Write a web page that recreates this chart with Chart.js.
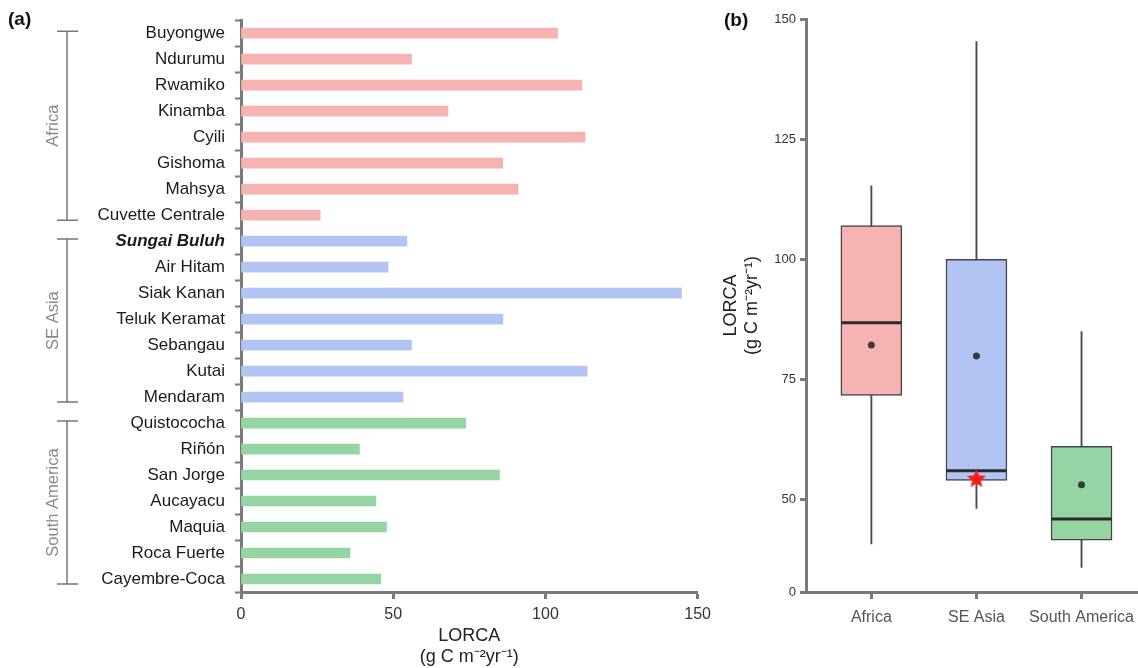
<!DOCTYPE html>
<html>
<head>
<meta charset="utf-8">
<script src="https://cdn.jsdelivr.net/npm/chart.js@4.4.0/dist/chart.umd.min.js"></script>
<style>
  body { margin: 0; background: #fff; }
  #wrap { position: relative; width: 1138px; height: 668px; overflow: hidden; }
  canvas { position: absolute; top: 0; }
  #barChart { left: 0; }
  #boxChart { left: 700px; }
</style>
</head>
<body>
<div id="wrap">
  <canvas id="barChart" width="717" height="668"></canvas>
  <canvas id="boxChart" width="443" height="668"></canvas>
</div>
<script>
// ---- data: panel (a) ----
const sites = ["Buyongwe", "Ndurumu", "Rwamiko", "Kinamba", "Cyili", "Gishoma", "Mahsya", "Cuvette Centrale",
  "Sungai Buluh", "Air Hitam", "Siak Kanan", "Teluk Keramat", "Sebangau", "Kutai", "Mendaram",
  "Quistococha", "Riñón", "San Jorge", "Aucayacu", "Maquia", "Roca Fuerte", "Cayembre-Coca"];
const lorca = [104, 56, 112, 68, 113, 86, 91, 26,
  54.5, 48.3, 144.7, 86, 56, 113.7, 53.2,
  73.8, 38.9, 84.9, 44.3, 47.8, 35.8, 45.9];
const siteRegion = [0, 0, 0, 0, 0, 0, 0, 0, 1, 1, 1, 1, 1, 1, 1, 2, 2, 2, 2, 2, 2, 2];
const highlightSite = "Sungai Buluh";
const xTicks = [0, 50, 100, 150];

// ---- data: panel (b) ----
const regions = ["Africa", "SE Asia", "South America"];
const regionPos = [1, 2, 3];
const boxMin = [40.8, 48.2, 35.9];
const boxQ1 = [71.7, 54.0, 41.6];
const boxMedian = [86.8, 56.0, 46.0];
const boxQ3 = [107.0, 100.0, 61.1];
const boxMax = [115.3, 145.3, 85.0];
const boxMean = [82.2, 79.9, 53.1];
const yTickValues = [30.8, 50, 75, 100, 125, 150];
const yTickLabels = ["0", "50", "75", "100", "125", "150"];

const regionColors = ["#F7B3B1", "#B2C4F4", "#95D4A3"];
const axisGray = "#7a7a7a";
const FONT = 'Arial, "Liberation Sans", sans-serif';

// Group brackets and panel letter for (a)
const groupBrackets = {
  id: "groupBrackets",
  afterDraw(chart) {
    const { ctx } = chart;
    const y = chart.scales.y;
    ctx.save();
    regions.forEach((name, r) => {
      const first = siteRegion.indexOf(r);
      const last = siteRegion.lastIndexOf(r);
      const top = y.getPixelForValue(first) - 2;
      const bot = y.getPixelForValue(last) + 5;
      ctx.strokeStyle = "#777";
      ctx.lineWidth = 1.5;
      ctx.beginPath();
      ctx.moveTo(67, top); ctx.lineTo(67, bot);
      ctx.moveTo(57, top); ctx.lineTo(78, top);
      ctx.moveTo(57, bot); ctx.lineTo(78, bot);
      ctx.stroke();
      ctx.save();
      ctx.translate(53, (top + bot) / 2);
      ctx.rotate(-Math.PI / 2);
      ctx.fillStyle = "#888";
      ctx.font = "16.5px " + FONT;
      ctx.textAlign = "center";
      ctx.textBaseline = "middle";
      ctx.fillText(name, 0, 0);
      ctx.restore();
    });
    ctx.fillStyle = "#111";
    ctx.font = "bold 19px " + FONT;
    ctx.textBaseline = "middle";
    ctx.fillText("(a)", 8, 20);
    ctx.restore();
  }
};

new Chart(document.getElementById("barChart"), {
  type: "bar",
  data: {
    labels: sites,
    datasets: [{
      data: lorca,
      backgroundColor: siteRegion.map(r => regionColors[r]),
      barThickness: 10,
      borderWidth: 0
    }]
  },
  options: {
    indexAxis: "y",
    responsive: false,
    animation: false,
    layout: { padding: { left: 0, top: 16, right: 0, bottom: 0 } },
    plugins: { legend: { display: false }, tooltip: { enabled: false } },
    scales: {
      x: {
        min: 0, max: 150,
        afterBuildTicks: s => { s.ticks = xTicks.map(v => ({ value: v })); },
        afterFit: s => { s.height = 76; },
        grid: { drawOnChartArea: false, drawTicks: true, tickLength: 7, tickColor: axisGray, tickWidth: 3 },
        border: { color: axisGray, width: 3 },
        ticks: { color: "#333", font: { family: FONT, size: 16 }, padding: 6, maxRotation: 0 },
        title: {
          display: true,
          text: ["LORCA", "(g C m⁻²yr⁻¹)"],
          color: "#222",
          font: { family: FONT, size: 18, lineHeight: 1.2 },
          padding: { top: 0, bottom: 0 }
        }
      },
      y: {
        afterFit: s => { s.width = 241; },
        grid: { offset: true, drawOnChartArea: false, drawTicks: true, tickLength: 6, tickColor: axisGray, tickWidth: 2 },
        border: { color: axisGray, width: 3 },
        ticks: {
          autoSkip: false,
          color: "#1a1a1a",
          padding: 10,
          font: ctx => {
            const hl = sites[ctx.index] === highlightSite;
            return { family: FONT, size: 17, weight: hl ? "bold" : "normal", style: hl ? "italic" : "normal" };
          }
        }
      }
    }
  },
  plugins: [groupBrackets]
});

// ---- panel (b) ----
function makeStar(size, color) {
  const c = document.createElement("canvas");
  c.width = c.height = size;
  const g = c.getContext("2d");
  const R = size / 2, r = R * 0.45;
  g.beginPath();
  for (let i = 0; i < 10; i++) {
    const a = -Math.PI / 2 + i * Math.PI / 5;
    const rad = i % 2 ? r : R;
    g.lineTo(R + rad * Math.cos(a), R + 1 + rad * Math.sin(a));
  }
  g.closePath();
  g.fillStyle = color;
  g.fill();
  return c;
}
const starImg = makeStar(20, "#ff1a1a");

const panelB = {
  id: "panelB",
  afterDraw(chart) {
    const { ctx } = chart;
    ctx.save();
    ctx.fillStyle = "#111";
    ctx.font = "bold 19px " + FONT;
    ctx.textBaseline = "middle";
    ctx.fillText("(b)", 24, 21);
    ctx.restore();
  }
};

new Chart(document.getElementById("boxChart"), {
  type: "bar",
  data: {
    datasets: [
      {
        type: "scatter",
        data: [{ x: 2, y: lorca[sites.indexOf(highlightSite)] }],
        pointStyle: starImg,
        order: 0
      },
      {
        type: "scatter",
        data: regionPos.map((x, i) => ({ x, y: boxMean[i] })),
        pointRadius: 3.5,
        pointBackgroundColor: "#3a3a3a",
        pointBorderWidth: 0,
        order: 1
      },
      {
        type: "scatter",
        data: regionPos.map((x, i) => ({ x, y: boxMedian[i] })),
        pointStyle: "line",
        pointRadius: 30,
        pointBorderWidth: 3,
        pointBorderColor: "#2b2b2b",
        order: 2
      },
      {
        data: regionPos.map((x, i) => ({ x, y: [boxQ1[i], boxQ3[i]] })),
        backgroundColor: regionColors,
        borderColor: "#444",
        borderWidth: 1.5,
        borderSkipped: false,
        barThickness: 61,
        grouped: false,
        order: 3
      },
      {
        data: regionPos.map((x, i) => ({ x, y: [boxQ3[i], boxMax[i]] })),
        backgroundColor: "#4a4a4a",
        barThickness: 1.2,
        grouped: false,
        order: 4
      },
      {
        data: regionPos.map((x, i) => ({ x, y: [boxMin[i], boxQ1[i]] })),
        backgroundColor: "#4a4a4a",
        barThickness: 1.2,
        grouped: false,
        order: 4
      }
    ]
  },
  options: {
    responsive: false,
    animation: false,
    layout: { autoPadding: false, padding: { left: 0, top: 19, right: 0, bottom: 0 } },
    plugins: { legend: { display: false }, tooltip: { enabled: false } },
    scales: {
      x: {
        type: "linear",
        offset: false,
        min: 0.378, max: 3.555,
        afterBuildTicks: s => { s.ticks = regionPos.map(v => ({ value: v })); },
        afterFit: s => { s.height = 76; },
        grid: { offset: false, drawOnChartArea: false, drawTicks: true, tickLength: 7, tickColor: axisGray, tickWidth: 3 },
        border: { color: axisGray, width: 3 },
        ticks: {
          autoSkip: false,
          color: "#555",
          font: { family: FONT, size: 16 },
          padding: 9,
          maxRotation: 0,
          callback: v => regions[regionPos.indexOf(v)]
        }
      },
      y: {
        type: "linear",
        min: yTickValues[0], max: 150,
        afterBuildTicks: s => { s.ticks = yTickValues.map(v => ({ value: v })); },
        afterFit: s => { s.width = 106; },
        grid: { drawOnChartArea: false, drawTicks: true, tickLength: 6, tickColor: axisGray, tickWidth: 3 },
        border: { color: axisGray, width: 3 },
        ticks: {
          color: "#333",
          font: { family: FONT, size: 13 },
          padding: 4,
          callback: v => yTickLabels[yTickValues.indexOf(v)]
        },
        title: {
          display: true,
          text: ["LORCA", "(g C m⁻²yr⁻¹)"],
          color: "#222",
          font: { family: FONT, size: 18, lineHeight: 1.15 },
          padding: { top: 20.5, bottom: 0 }
        }
      }
    }
  },
  plugins: [panelB]
});
</script>
</body>
</html>
